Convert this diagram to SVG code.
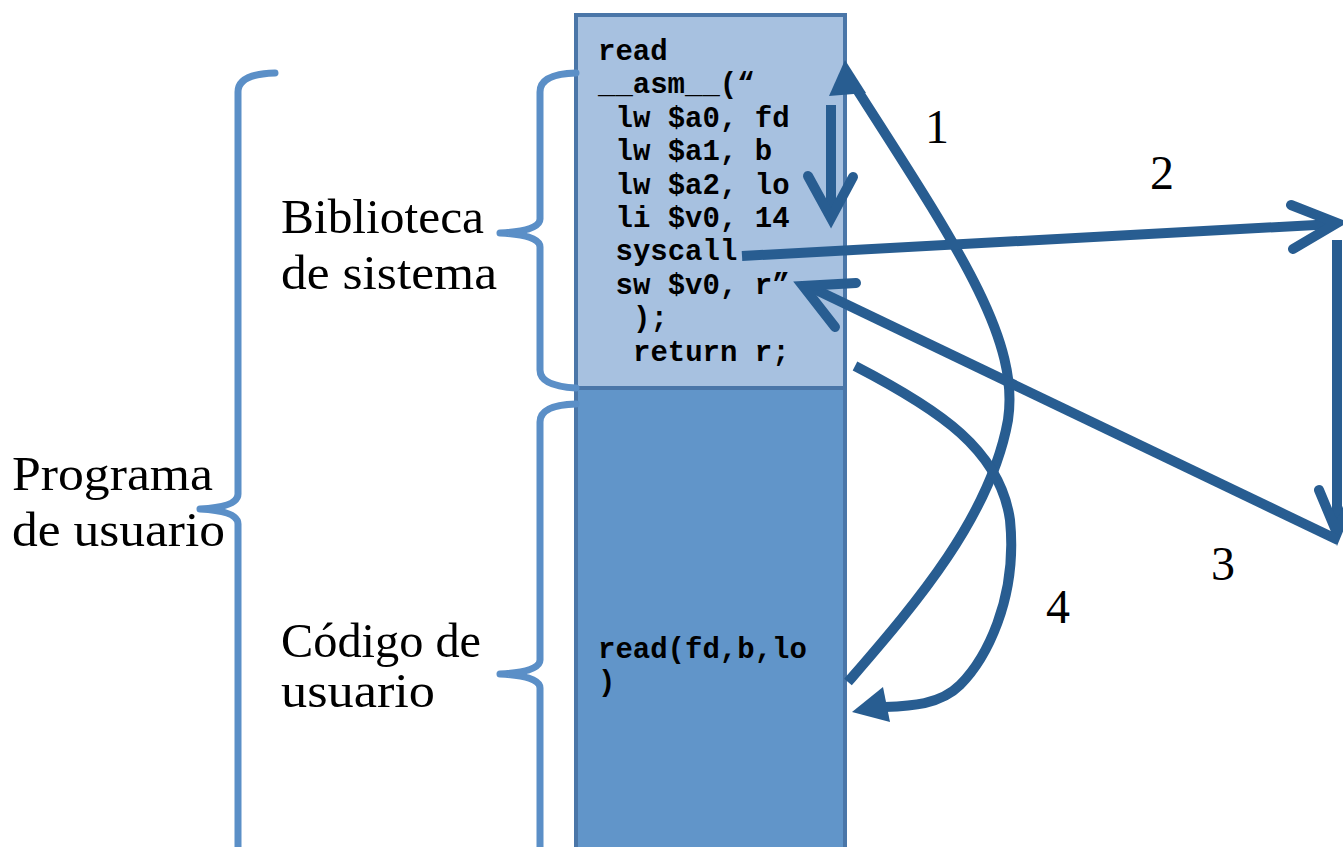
<svg xmlns="http://www.w3.org/2000/svg" width="1343" height="847" viewBox="0 0 1343 847">
<style>
.lbl{font-family:"Liberation Serif","DejaVu Serif",serif;font-size:48px;fill:#000}
.code{font-family:"Liberation Mono","DejaVu Sans Mono",monospace;font-size:29px;font-weight:bold;fill:#000}
.brace{fill:none;stroke:#5b8fc7;stroke-width:7;stroke-linecap:round;stroke-linejoin:round}
.arr{fill:none;stroke:#285d91;stroke-width:10}
.chev{fill:none;stroke:#285d91;stroke-width:10;stroke-linecap:round;stroke-linejoin:miter;stroke-miterlimit:10}
.head{fill:#285d91;stroke:none}
</style>
<rect width="1343" height="847" fill="#fff"/>
<g id="box-biblioteca">
<rect x="576" y="15" width="269" height="373" fill="#a7c1e0" stroke="#4a76a8" stroke-width="4"/>
<text class="code" x="598" y="60">read</text>
<text class="code" x="598" y="93.4">__asm__(“</text>
<text class="code" x="615.5" y="126.8">lw $a0, fd</text>
<text class="code" x="615.5" y="160.2">lw $a1, b</text>
<text class="code" x="615.5" y="193.6">lw $a2, lo</text>
<text class="code" x="615.5" y="227">li $v0, 14</text>
<text class="code" x="615.5" y="260.4">syscall</text>
<text class="code" x="615.5" y="293.8">sw $v0, r”</text>
<text class="code" x="633" y="327.2">);</text>
<text class="code" x="633" y="360.6">return r;</text>
</g>
<g id="box-codigo">
<rect x="576" y="388" width="269" height="480" fill="#6195c9" stroke="#4a76a8" stroke-width="4"/>
<text class="code" x="598" y="658">read(fd,b,lo</text>
<text class="code" x="598" y="691">)</text>
</g>
<g id="brace-programa">
<path class="brace" d="M275,73 Q238,74 238,92 L238,494 Q238,507 200,509 Q238,511 238,524 L238,860"/>
<text class="lbl" x="12" y="490" textLength="201" lengthAdjust="spacingAndGlyphs">Programa</text>
<text class="lbl" x="12" y="546" textLength="213" lengthAdjust="spacingAndGlyphs">de usuario</text>
</g>
<g id="brace-biblioteca">
<path class="brace" d="M576,73 Q540,74 540,92 L540,219 Q540,231 500,233 Q540,235 540,247 L540,370 Q540,386 576,388"/>
<text class="lbl" x="281" y="233" textLength="203" lengthAdjust="spacingAndGlyphs">Biblioteca</text>
<text class="lbl" x="281" y="289" textLength="216" lengthAdjust="spacingAndGlyphs">de sistema</text>
</g>
<g id="brace-codigo">
<path class="brace" d="M576,404 Q540,405 540,422 L540,660 Q540,672 500,674 Q540,676 540,688 L540,860"/>
<text class="lbl" x="281" y="657" textLength="200" lengthAdjust="spacingAndGlyphs">Código de</text>
<text class="lbl" x="281" y="707" textLength="154" lengthAdjust="spacingAndGlyphs">usuario</text>
</g>
<g id="labels">
<text class="lbl" x="937" y="143" text-anchor="middle">1</text>
<text class="lbl" x="1162" y="189" text-anchor="middle">2</text>
<text class="lbl" x="1223" y="580" text-anchor="middle">3</text>
<text class="lbl" x="1058" y="623" text-anchor="middle">4</text>
</g>
<g id="connectors">
<path class="arr" d="M831,105 L831,212"/>
<polyline class="chev" points="808,176 831,218 853,177"/>
<path class="arr" d="M848,682 C910,610 990,520 1008,420 C1020,340 960,250 856,88"/>
<polygon class="head" points="845,60 829,96 866,93"/>
<path class="arr" d="M742,256 L1334,224"/>
<polyline class="chev" points="1291,205 1337,223 1293,249"/>
<path class="arr" d="M1337,240 L1337,532"/>
<polyline class="chev" points="1319,490 1337,533 1355,490"/>
<path class="arr" d="M1338,540 L808,286"/>
<polyline class="chev" points="856,283 803,286 835,327"/>
<path class="arr" d="M855,366 C940,410 1000,450 1010,520 C1018,600 985,660 960,685 C940,705 910,706 884,707"/>
<polygon class="head" points="852,712 883,687 890,722"/>
</g>
</svg>
